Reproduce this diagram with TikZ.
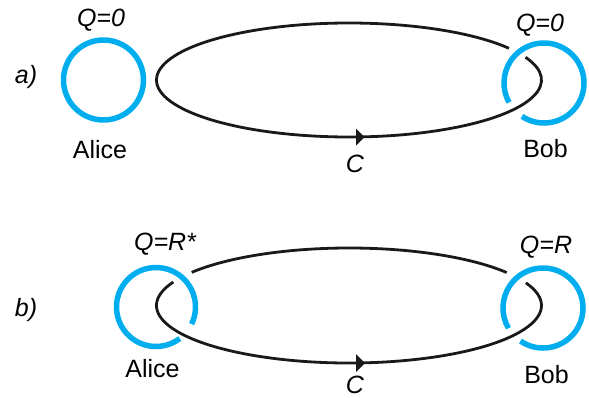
\documentclass[tikz,border=0pt]{standalone}
\usepackage{fontspec}
\setmainfont{Liberation Sans}
\definecolor{qblue}{RGB}{0,174,239}
\tikzset{
  ring/.style={draw=qblue, line width=5.5pt},
  loopline/.style={draw=black!90, line width=2.8pt},
  lbl/.style={anchor=base, inner sep=0pt, font=\fontsize{25}{30}\selectfont},
  ilbl/.style={lbl, font=\fontsize{25}{30}\selectfont\itshape},
  tip/.style={fill=black!90}
}
\begin{document}
\begin{tikzpicture}[x=1pt,y=1pt]
\useasboundingbox (0,0) rectangle (589,-397);
% ---------- panel a ----------
\coordinate (A1) at (103.5,-80);
\coordinate (B1) at (544,-83);
\coordinate (E1) at (349,-80);
\coordinate (M1) at (360,-137);
\draw[ring] (A1) circle[radius=40pt];
\draw[loopline] ([shift={(33.8:192.5pt and 57pt)}]E1) arc[start angle=33.8, end angle=383.5, x radius=192.5pt, y radius=57pt];
\draw[ring] ([shift={(236.5:40pt)}]B1) arc[start angle=236.5, end angle=569, radius=40pt];
\fill[tip] ([shift={(-4,8.5)}]M1) -- ([shift={(4.5,0)}]M1) -- ([shift={(-4,-8.5)}]M1) -- cycle;
\node[ilbl] (qa1) at (101,-26) {Q=0};
\node[lbl] (na1) at (100,-158) {Alice};
\node[ilbl] (qb1) at (540,-31) {Q=0};
\node[lbl] (nb1) at (545.5,-157) {Bob};
\node[ilbl] (c1) at (355,-172) {C};
\node[ilbl] (pa) at (26,-83) {a)};
% ---------- panel b ----------
\coordinate (A2) at (156,-307);
\coordinate (B2) at (543,-308);
\coordinate (E2) at (349,-305.5);
\coordinate (M2) at (360.5,-363);
\draw[loopline] ([shift={(35:192.5pt and 57.5pt)}]E2) arc[start angle=35, end angle=144.8, x radius=192.5pt, y radius=57.5pt];
\draw[loopline] ([shift={(155.9:192.5pt and 57.5pt)}]E2) arc[start angle=155.9, end angle=383.2, x radius=192.5pt, y radius=57.5pt];
\draw[ring] ([shift={(-25.6:39.5pt)}]A2) arc[start angle=-25.6, end angle=307, radius=39.5pt];
\draw[ring] ([shift={(235.7:40pt)}]B2) arc[start angle=235.7, end angle=570.3, radius=40pt];
\fill[tip] ([shift={(-4.5,9)}]M2) -- ([shift={(4.5,0)}]M2) -- ([shift={(-4.5,-9)}]M2) -- cycle;
\node[ilbl] (qa2) at (165,-250) {Q=R*};
\node[lbl] (na2) at (152.5,-377) {Alice};
\node[ilbl] (qb2) at (546,-253) {Q=R};
\node[lbl] (nb2) at (546.5,-383) {Bob};
\node[ilbl] (c2) at (355,-393) {C};
\node[ilbl] (pb) at (26,-316) {b)};
\end{tikzpicture}
\end{document}
